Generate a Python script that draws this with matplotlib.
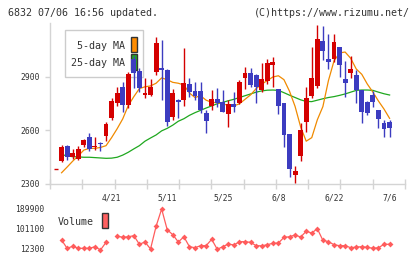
import numpy as np
import matplotlib.pyplot as plt
from matplotlib.patches import Rectangle

plt.rcParams['font.family'] = ['DejaVu Sans Mono']

# date labels every 10 trading days (index into the candle list)
tick_days = [10, 20, 30, 40, 50, 60]
tick_labels = ["4/21", "5/11", "5/25", "6/8", "6/22", "7/6"]

# OHLC (4/7 .. 7/6)
opens = [2386, 2431, 2513, 2453, 2440, 2519, 2565, 2506, 2530, 2569,
         2670, 2756, 2846, 2743, 3000, 2935, 2800, 2799, 2930, 2950,
         2939, 2677, 2771, 2771, 2861, 2821, 2821, 2700, 2737, 2777,
         2762, 2693, 2749, 2756, 2897, 2925, 2911, 2827, 2880, 2967,
         2833, 2756, 2580, 2350, 2457, 2649, 2793, 2849, 3104, 2999,
         2999, 3066, 2887, 2925, 2911, 2827, 2762, 2799, 2715, 2644,
         2649]
highs = [2386, 2519, 2519, 2497, 2515, 2552, 2588, 2562, 2535, 2649,
         2785, 2846, 2872, 2930, 3020, 2950, 2895, 2890, 3126, 3105,
         2945, 2830, 2775, 3064, 2893, 2874, 2874, 2715, 2827, 2837,
         2827, 2771, 2818, 2883, 2954, 2949, 2915, 2980, 2999, 3010,
         2833, 2756, 2580, 2403, 2640, 2846, 3066, 3191, 3186, 3141,
         3141, 3070, 2991, 3018, 2939, 2827, 2765, 2823, 2715, 2659,
         2659]
lows = [2386, 2425, 2436, 2441, 2432, 2506, 2483, 2491, 2485, 2540,
        2660, 2740, 2705, 2725, 2840, 2818, 2780, 2795, 2911, 2770,
        2625, 2660, 2668, 2740, 2790, 2770, 2696, 2588, 2715, 2730,
        2705, 2621, 2705, 2749, 2831, 2846, 2756, 2818, 2861, 2846,
        2693, 2510, 2341, 2304, 2431, 2593, 2780, 2837, 2995, 2943,
        2986, 2902, 2790, 2893, 2752, 2640, 2687, 2733, 2612, 2565,
        2565]
closes = [2386, 2506, 2453, 2472, 2494, 2547, 2494, 2513, 2522, 2636,
          2765, 2812, 2743, 2917, 2920, 2837, 2812, 2846, 3093, 2940,
          2649, 2812, 2762, 2868, 2818, 2796, 2715, 2655, 2777, 2756,
          2705, 2749, 2730, 2874, 2925, 2855, 2846, 2887, 2980, 2986,
          2740, 2575, 2384, 2375, 2603, 2780, 2893, 3113, 3048, 2986,
          3094, 2970, 2865, 2943, 2827, 2705, 2700, 2762, 2663, 2607,
          2612]

ma5 = [np.nan, 2363, 2395, 2428, 2458, 2490, 2500, 2500, 2505, 2515,
       2560, 2610, 2665, 2740, 2790, 2835, 2845, 2850, 2865, 2895,
       2885, 2870, 2865, 2855, 2810, 2785, 2795, 2770, 2758, 2756,
       2750, 2740, 2738, 2750, 2775, 2800, 2835, 2860, 2880, 2900,
       2907, 2885, 2820, 2735, 2620, 2540, 2560, 2660, 2734, 2880,
       2990, 3035, 3040, 3005, 2945, 2915, 2860, 2815, 2765, 2720,
       2668]
ma25 = [np.nan, 2465, 2458, 2453, 2452, 2450, 2450, 2448, 2446, 2444,
        2445, 2450, 2462, 2478, 2497, 2515, 2540, 2558, 2575, 2598,
        2612, 2630, 2652, 2666, 2685, 2700, 2713, 2726, 2738, 2750,
        2758, 2767, 2775, 2785, 2795, 2805, 2815, 2822, 2826, 2827,
        2825, 2812, 2798, 2785, 2772, 2763, 2762, 2770, 2778, 2785,
        2790, 2797, 2805, 2815, 2825, 2827, 2827, 2825, 2815, 2806,
        2799]

volume = [np.nan, 52260, 15400, 24300, 15400, 15400, 15400, 22500, 7900, 42000,
          np.nan, 70000, 64000, 66700, 71300, 33200, 43500, 12300, 113100, 189900,
          98000, 75800, 43500, 66700, 22500, 18000, 27000, 27000, 55300, 11000,
          22500, 34500, 30100, 44700, 44700, 41900, 27000, 26500, 31400, 37500,
          38700, 64000, 66700, 74400, 65500, 90900, 83300, 102400, 50900, 44700,
          31400, 27000, 27000, 18000, 21000, 22500, 19700, 15400, 18000, 33200,
          33200]

price_ticks = [2300, 2600, 2900]
vol_ticks = [12300, 101100, 189900]

RED = "#d40000"
BLUE = "#3c3cc0"
GRID = "#d4d4d4"
TXT = "#333333"

o = np.array(opens, float)
h = np.array(highs, float)
l = np.array(lows, float)
c = np.array(closes, float)
x = np.arange(len(o))
cols = [RED if cc >= oo else BLUE for oo, cc in zip(o, c)]

fig = plt.figure(figsize=(4.2, 2.59), dpi=100)
xlim = (-1.08, 62.77)

# --- price panel ---
ax = fig.add_axes([50 / 420, 1 - 184 / 259, 355 / 420, 160.5 / 259])
ax.set_xlim(*xlim)
ax.set_ylim(2300, 3200)

# legend (drawn under the candles)
ax.add_patch(Rectangle((0.042, 0.667), 0.22, 0.293, transform=ax.transAxes,
                       facecolor="white", edgecolor="#cccccc", lw=1, zorder=1))
ax.text(0.211, 0.860, "5-day MA", transform=ax.transAxes, ha="right", va="center",
        fontsize=7.2, color=TXT, zorder=1)
ax.text(0.211, 0.756, "25-day MA", transform=ax.transAxes, ha="right", va="center",
        fontsize=7.2, color=TXT, zorder=1)
ax.add_patch(Rectangle((0.228, 0.821), 0.018, 0.097, transform=ax.transAxes,
                       facecolor="#ff8c00", edgecolor="#333333", lw=1, zorder=1))
ax.add_patch(Rectangle((0.228, 0.710), 0.018, 0.100, transform=ax.transAxes,
                       facecolor="#22aa22", edgecolor="#333333", lw=1, zorder=1))

ax.plot(x, ma25, color="#1fa81f", lw=0.9, zorder=2)
ax.plot(x, ma5, color="#f08a00", lw=0.9, zorder=2)

ax.vlines(x, l, h, colors=cols, lw=1.0, zorder=3)
body_lo = np.minimum(o, c)
body_h = np.abs(c - o)
ax.bar(x, body_h, bottom=body_lo, width=0.88, color=cols, lw=0, zorder=4)
flat = body_h == 0
ax.hlines(o[flat], x[flat] - 0.44, x[flat] + 0.44, colors=np.array(cols)[flat],
          lw=1.0, zorder=4)

for s in ["top", "right"]:
    ax.spines[s].set_visible(False)
for s in ["left", "bottom"]:
    ax.spines[s].set_color(GRID)
    ax.spines[s].set_linewidth(1)

ax.set_yticks(price_ticks)
ax.set_yticklabels([str(t) for t in price_ticks])
ax.tick_params(axis="y", length=3.6, width=1, color=GRID, pad=3.6,
               labelsize=5.8, labelcolor=TXT)
ax.set_xticks(tick_days)
ax.set_xticklabels(tick_labels)
ax.set_xticks(np.linspace(xlim[0], xlim[1], 12), minor=True)
ax.tick_params(axis="x", which="major", length=0, pad=6.5, labelsize=5.8,
               labelcolor=TXT)
ax.tick_params(axis="x", which="minor", direction="inout", length=7.2, width=1,
               color=GRID)

# --- volume panel ---
vax = fig.add_axes([50 / 420, 1 - 254 / 259, 355 / 420, 50 / 259])
vax.set_xlim(*xlim)
vax.set_ylim(-9900, 212100)
vax.plot(x, volume, color="#ff5c5c", lw=0.9, marker="D", markersize=3.0,
         markeredgewidth=0)
for s in vax.spines.values():
    s.set_visible(False)
vax.set_xticks([])
vax.set_yticks(vol_ticks)
vax.set_yticklabels([str(t) for t in vol_ticks])
vax.tick_params(axis="y", length=0, pad=4.3, labelsize=5.8, labelcolor=TXT)

fig.text(58 / 420, 1 - 222 / 259, "Volume", ha="left", va="center",
         fontsize=7.2, color=TXT)
fig.add_artist(Rectangle((101.7 / 420, 1 - 228.3 / 259), 6 / 420, 15 / 259,
                         transform=fig.transFigure, facecolor="#ff6060",
                         edgecolor="#333333", lw=1))

# header
fig.text(8 / 420, 1 - 13 / 259, "6832 07/06 16:56 updated.", ha="left",
         va="center", fontsize=7.2, color=TXT)
fig.text(410 / 420, 1 - 13 / 259, "(C)https://www.rizumu.net/", ha="right",
         va="center", fontsize=7.2, color=TXT)

fig.savefig("out.png", dpi=100)
